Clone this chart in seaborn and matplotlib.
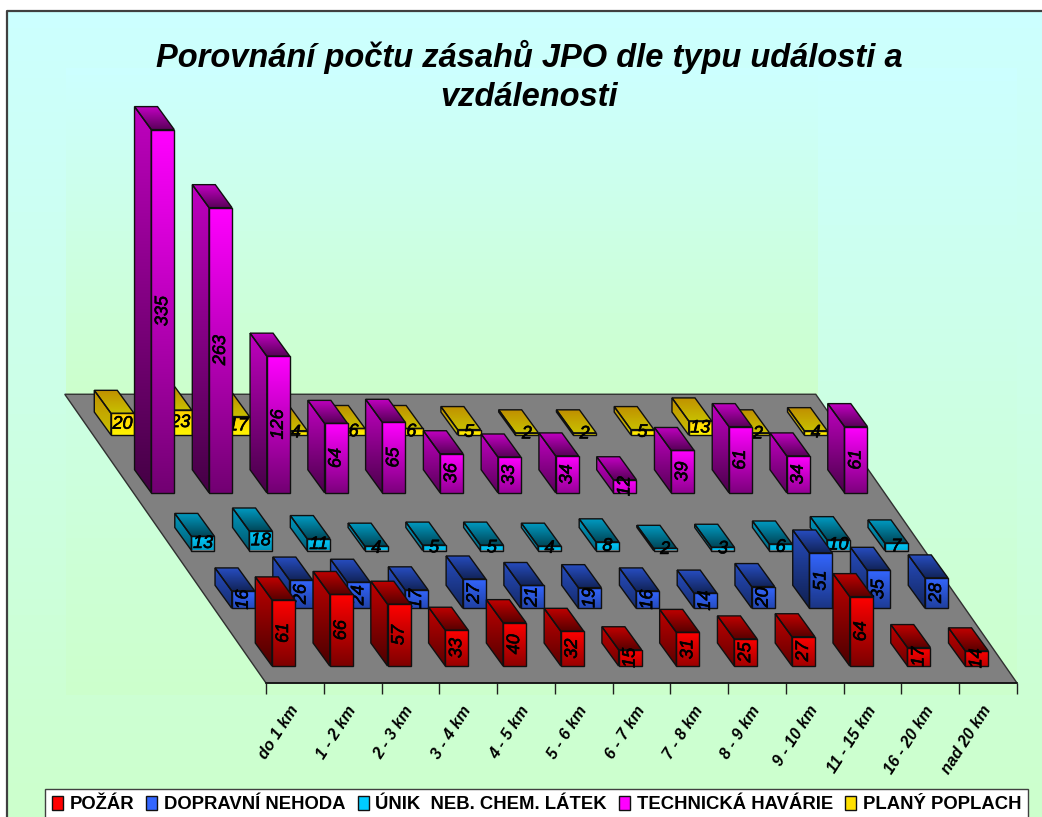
import numpy as np
import pandas as pd
import seaborn as sns
import matplotlib
matplotlib.use("Agg")
import matplotlib.pyplot as plt
import matplotlib.patheffects as pe
from matplotlib.patches import Polygon, Patch

# ---- data -------------------------------------------------------------
categories = ["do 1 km", "1 - 2 km", "2 - 3 km", "3 - 4 km", "4 - 5 km", "5 - 6 km", "6 - 7 km",
              "7 - 8 km", "8 - 9 km", "9 - 10 km", "11 - 15 km", "16 - 20 km", "nad 20 km"]
pozar = [61, 66, 57, 33, 40, 32, 15, 31, 25, 27, 64, 17, 14]
nehoda = [16, 26, 24, 17, 27, 21, 19, 16, 14, 20, 51, 35, 28]
unik = [13, 18, 11, 4, 5, 5, 4, 8, 2, 3, 6, 10, 7]
havarie = [335, 263, 126, 64, 65, 36, 33, 34, 12, 39, 61, 34, 61]
poplach = [20, 23, 17, 4, 6, 6, 5, 2, 2, 5, 13, 2, 4]
series_names = ["POŽÁR", "DOPRAVNÍ NEHODA", "ÚNIK  NEB. CHEM. LÁTEK", "TECHNICKÁ HAVÁRIE", "PLANÝ POPLACH"]
series_values = [pozar, nehoda, unik, havarie, poplach]
series_colors = ["#FF0000", "#3366FF", "#00CCFF", "#FF00FF", "#FFE000"]
title = "Porovnání počtu zásahů JPO dle typu události a\nvzdálenosti"

# ---- style / canvas ---------------------------------------------------
sns.set_theme(style="ticks")
plt.rcParams["font.family"] = ["Liberation Sans", "DejaVu Sans"]
plt.rcParams["text.color"] = "black"
W, H = 1042, 817
fig = plt.figure(figsize=(W / 100, H / 100), dpi=100, facecolor="white")


def grad(c_top, c_bot, n=48):
    a = np.array(matplotlib.colors.to_rgb(c_top))
    b = np.array(matplotlib.colors.to_rgb(c_bot))
    return np.linspace(a, b, n)[:, None, :]


bg = fig.add_axes([0, 0, 1, 1], zorder=0)
bg.set_xlim(0, W)
bg.set_ylim(H, 0)
bg.axis("off")
bg.imshow(grad("#CCFFFF", "#CCFFCC"), extent=(7, W, H, 11), aspect="auto", zorder=1)
bg.imshow(grad("#CCFFFF", "#CCFFCC"), extent=(66, 1017, 695, 68), aspect="auto", zorder=2)
bg.imshow(grad("#CCFFFF", "#CCFFCC"), extent=(66, 818, 395, 68), aspect="auto", zorder=3)
bg.set_xlim(0, W)
bg.set_ylim(H, 0)
bg.plot([7, 7, W], [H, 11, 11], color="#404040", lw=1.6, zorder=5)

# ---- main axes: bottom edge is the front edge of the floor -------------
FL, FR, FB, FT = 266, 1017, 683, 68
ax = fig.add_axes([FL / W, (H - FB) / H, (FR - FL) / W, (FB - FT) / H], zorder=1)
ax.patch.set_visible(False)
PXX = (FR - FL) / 13.0     # pixels per category
PXY = 1.084                # pixels per value unit
ROW_DX, ROW_DY = -40.25 / PXX, 57.75 / PXY
IN_DX, IN_DY = -11.4 / PXX, 17.0 / PXY
DEP_DX, DEP_DY = -16.7 / PXX, 23.0 / PXY
BAR_W = 23.0 / PXX

frame = pd.DataFrame({
    "kategorie": categories * len(series_names),
    "pocet": np.concatenate(series_values),
    "serie": np.repeat(series_names, len(categories)),
})


def shade(col, k):
    return tuple(np.array(matplotlib.colors.to_rgb(col)) * k)


def gradient_poly(verts, c_top, c_bot, z):
    verts = np.array(verts)
    clip = Polygon(verts, closed=True, transform=ax.transData)
    im = ax.imshow(grad(c_top, c_bot), aspect="auto", zorder=z, interpolation="bilinear",
                   extent=(verts[:, 0].min(), verts[:, 0].max(), verts[:, 1].min(), verts[:, 1].max()))
    im.set_clip_path(clip)
    im.set_clip_box(fig.bbox)


heavy = [pe.withStroke(linewidth=0.45, foreground="black")]

for row, (name, color) in enumerate(zip(series_names, series_colors)):
    z = 10 + 10 * (len(series_names) - row)
    sub = frame[frame["serie"] == name]
    before = len(ax.containers)
    sns.barplot(data=sub, x="kategorie", y="pocet", color=color, width=BAR_W,
                saturation=1, errorbar=None, ax=ax)
    bars = ax.containers[before]
    horizontal = row in (2, 4)
    yellow = row == 4
    for rect, v in zip(bars, sub["pocet"]):
        x0 = rect.get_x() + IN_DX + row * ROW_DX
        x1 = x0 + rect.get_width()
        y0 = IN_DY + row * ROW_DY
        y1 = y0 + v
        rect.set_x(x0)
        rect.set_y(y0)
        rect.set_facecolor("none")
        rect.set_edgecolor("#101010")
        rect.set_linewidth(1.0)
        rect.set_zorder(z + 3)
        rect.set_clip_on(False)
        f = 0.45 + 0.55 * np.exp(-v / 25.0)
        side = [(x0, y0), (x0, y1), (x0 + DEP_DX, y1 + DEP_DY), (x0 + DEP_DX, y0 + DEP_DY)]
        top = [(x0, y1), (x1, y1), (x1 + DEP_DX, y1 + DEP_DY), (x0 + DEP_DX, y1 + DEP_DY)]
        front = [(x0, y0), (x1, y0), (x1, y1), (x0, y1)]
        if yellow:
            gradient_poly(front, "#FFD000", "#FFF400", z)
            gradient_poly(side, "#C09000", "#C8C000", z + 1)
            gradient_poly(top, "#C09000", "#C8C000", z + 1)
        else:
            gradient_poly(front, color, shade(color, f), z)
            gradient_poly(side, shade(color, 0.75), shade(color, 0.75 * f * 0.8), z + 1)
            gradient_poly(top, shade(color, 0.75), shade(color, 0.35), z + 1)
        for verts in (side, top):
            ax.add_patch(Polygon(verts, closed=True, fc="none", ec="#101010", lw=1.0,
                                 zorder=z + 2, clip_on=False))
        ax.text((x0 + x1) / 2, (y0 + y1) / 2, str(v), ha="center", va="center",
                rotation=0 if horizontal else 90, rotation_mode="anchor", fontsize=13,
                style="italic", color="black", zorder=z + 4, clip_on=False, path_effects=heavy)

# floor
floor = [(-0.5, 0), (12.5, 0), (12.5 + 5 * ROW_DX, 5 * ROW_DY), (-0.5 + 5 * ROW_DX, 5 * ROW_DY)]
ax.add_patch(Polygon(floor, closed=True, fc="#808080", ec="#303030", lw=1.0, zorder=2, clip_on=False))

ax.set_xlim(-0.5, 12.5)
ax.set_ylim(0, (FB - FT) / PXY)
ax.set_xlabel("")
ax.set_ylabel("")
ax.set_yticks([])
sns.despine(ax=ax, left=True)
ax.spines["bottom"].set_color("#101010")
ax.spines["bottom"].set_linewidth(1.2)
ax.spines["bottom"].set_zorder(3)
ax.set_xticks(np.arange(-0.5, 13), labels=[""] * 14)
ax.set_xticks(np.arange(13), labels=categories, minor=True)
ax.tick_params(axis="x", which="major", length=8, width=1, color="#202020")
ax.tick_params(axis="x", which="minor", length=0, pad=17.5)
for lab in ax.get_xticklabels(minor=True):
    lab.set(rotation=57, ha="right", va="center", rotation_mode="anchor",
            fontsize=11.5, fontweight="bold", style="italic", color="black")

# title
fig.text(529 / W, 1 - 76 / H, title, ha="center", va="center", fontsize=23.5, fontweight="bold",
         style="italic", color="black", linespacing=1.33, zorder=10)

# legend
handles = [Patch(facecolor=c, edgecolor="#101010", lw=1) for c in series_colors]
leg = fig.legend(handles, series_names, ncol=5, loc="upper left", bbox_to_anchor=(45 / W, 1 - 789 / H),
                 borderaxespad=0, frameon=True, fancybox=False, framealpha=1, facecolor="white",
                 edgecolor="#404040", labelcolor="black", prop={"weight": "bold", "size": 13.3},
                 handlelength=0.6, handleheight=0.75, handletextpad=0.35, columnspacing=0.66,
                 borderpad=0.38)
leg.set_zorder(20)

fig.savefig("out.png", dpi=100, facecolor="white")
